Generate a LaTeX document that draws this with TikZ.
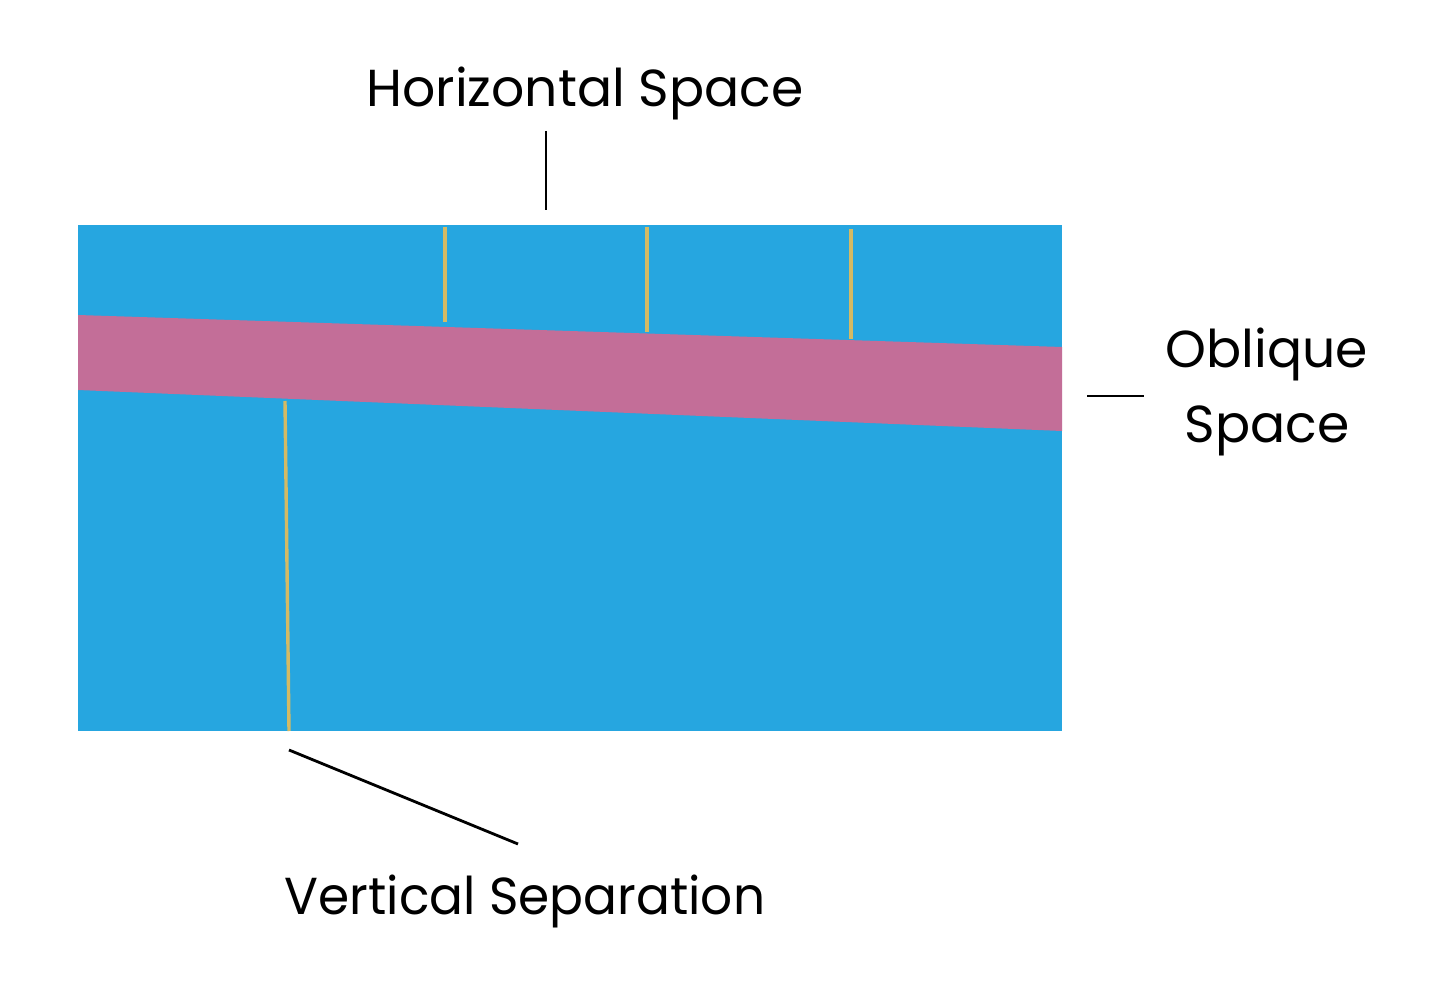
\documentclass[tikz,border=0pt]{standalone}
\usepackage{fontspec}
\setmainfont{Poppins}
\definecolor{skyblue}{RGB}{38,166,224}
\definecolor{bandpink}{RGB}{195,110,152}
\definecolor{sepyellow}{RGB}{212,186,100}
\begin{document}
\begin{tikzpicture}[x=1pt,y=-1pt,
  leader/.style={draw=black,line width=2.8pt},
  sepline/.style={draw=sepyellow,line width=3.4pt},
  lbl/.style={font=\fontsize{52}{75}\selectfont,inner sep=0pt,align=center}]
\useasboundingbox[fill=white] (0,0) rectangle (1440,984);
% blue field
\fill[skyblue] (78,225) rectangle (1062,731);
% oblique band
\fill[bandpink] (78,315) -- (1062,347) -- (1062,431) -- (78,390) -- cycle;
% separations
\draw[sepline] (445,227) -- (445,322);
\draw[sepline] (647,227) -- (647,332);
\draw[sepline] (851,229) -- (851,339);
\draw[sepline] (285,401) -- (289,731);
% labels
\node[lbl,anchor=base] (hs) at (585,107) {Horizontal Space};
\node[lbl,anchor=base] (os) at (1267,442) {Oblique\\Space};
\node[lbl,anchor=base,xscale=0.965] (vs) at (525,914) {Vertical Separation};
% leader ends
\coordinate (h1) at (546,131); \coordinate (h2) at (546,210);
\coordinate (o1) at (1087,396); \coordinate (o2) at (1144,396);
\coordinate (v1) at (289,750); \coordinate (v2) at (518,844);
\draw[leader] (h1) -- (h2);
\draw[leader] (o1) -- (o2);
\draw[leader] (v1) -- (v2);
\end{tikzpicture}
\end{document}
